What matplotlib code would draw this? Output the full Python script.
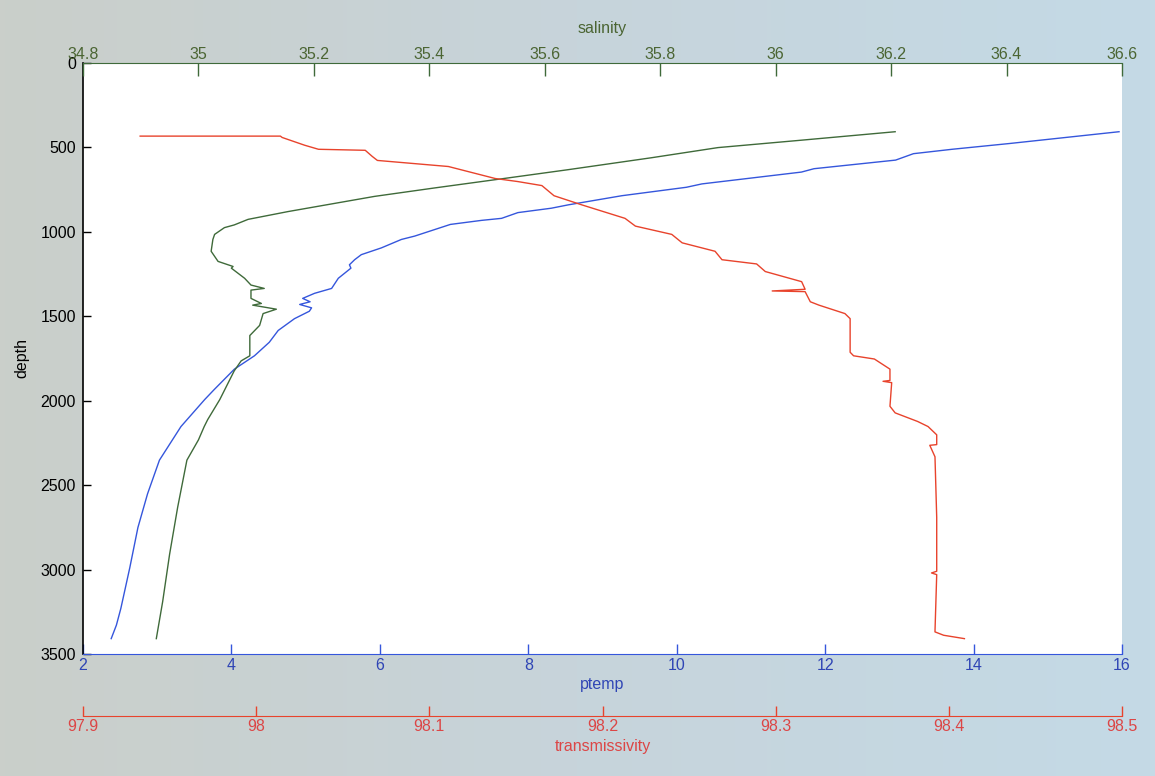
import matplotlib.pyplot as plt
import numpy as np
from matplotlib.colors import LinearSegmentedColormap

# =====================
# CTD profile (depth in m)
# =====================
sal_depth = [407, 457, 501, 561, 632, 686, 740, 790, 880, 926, 959, 975, 1015, 1045,
             1115, 1175, 1205, 1215, 1275, 1315, 1335, 1345, 1394, 1424, 1434, 1458,
             1484, 1554, 1614, 1734, 1764, 1823, 1993, 2112, 2153, 2232, 2352, 2631,
             2910, 3190, 3409]
salinity = [36.207, 36.045, 35.900, 35.785, 35.640, 35.525, 35.409, 35.305, 35.155,
            35.086, 35.062, 35.045, 35.028, 35.025, 35.022, 35.034, 35.060, 35.057,
            35.080, 35.091, 35.114, 35.091, 35.091, 35.109, 35.094, 35.135, 35.112,
            35.106, 35.089, 35.089, 35.074, 35.062, 35.037, 35.016, 35.010, 35.000,
            34.980, 34.964, 34.950, 34.938, 34.927]

temp_depth = [407, 477, 511, 537, 575, 626, 646, 716, 736, 786, 840, 860, 886, 920,
              932, 956, 1025, 1045, 1095, 1135, 1165, 1195, 1215, 1275, 1335, 1364,
              1394, 1414, 1430, 1450, 1470, 1514, 1584, 1654, 1734, 1813, 1933, 1993,
              2153, 2352, 2551, 2751, 2990, 3230, 3329, 3409]
ptemp = [15.96, 14.48, 13.71, 13.19, 12.95, 11.85, 11.68, 10.34, 10.13, 9.26, 8.54,
         8.31, 7.86, 7.64, 7.37, 6.95, 6.47, 6.29, 6.02, 5.75, 5.66, 5.59, 5.61, 5.44,
         5.35, 5.12, 4.96, 5.06, 4.92, 5.08, 5.05, 4.85, 4.63, 4.51, 4.31, 4.04, 3.77,
         3.64, 3.32, 3.03, 2.87, 2.74, 2.63, 2.51, 2.45, 2.38]

trans_depth = [433, 433, 441, 487, 511, 517, 553, 577, 613, 684, 702, 726, 786, 840,
               920, 966, 1015, 1065, 1115, 1165, 1190, 1235, 1295, 1340, 1350, 1354,
               1414, 1434, 1484, 1514, 1713, 1734, 1753, 1813, 1880, 1885, 1893, 2033,
               2072, 2123, 2153, 2202, 2260, 2264, 2332, 2691, 3010, 3020, 3030, 3369,
               3389, 3409]
transmissivity = [97.933, 98.014, 98.015, 98.028, 98.036, 98.063, 98.067, 98.070,
                  98.111, 98.138, 98.151, 98.165, 98.172, 98.188, 98.213, 98.219,
                  98.240, 98.246, 98.265, 98.269, 98.289, 98.294, 98.315, 98.317,
                  98.298, 98.317, 98.320, 98.325, 98.340, 98.343, 98.343, 98.345,
                  98.357, 98.366, 98.366, 98.362, 98.367, 98.366, 98.369, 98.382,
                  98.388, 98.393, 98.393, 98.389, 98.392, 98.393, 98.393, 98.390,
                  98.393, 98.392, 98.397, 98.409]

depth_ticks = [0, 500, 1000, 1500, 2000, 2500, 3000, 3500]
ptemp_ticks = [2, 4, 6, 8, 10, 12, 14, 16]
sal_ticks = [34.8, 35, 35.2, 35.4, 35.6, 35.8, 36, 36.2, 36.4, 36.6]
trans_ticks = [97.9, 98, 98.1, 98.2, 98.3, 98.4, 98.5]

GREEN = "#3f6a3a"
GREEN_TXT = "#4b6533"
BLUE = "#3556dc"
BLUE_TXT = "#2f45b5"
RED = "#e8432c"
RED_TXT = "#dc4646"

plt.rcParams["font.family"] = ["Liberation Sans", "DejaVu Sans"]
plt.rcParams["font.size"] = 11.5

fig = plt.figure(figsize=(11.55, 7.76), dpi=100)

# 배경
bg = fig.add_axes([0, 0, 1, 1], zorder=-10)
bg_cmap = LinearSegmentedColormap.from_list("bg", ["#cacfca", "#c7d4db", "#c4dae6"])
bg.imshow(np.linspace(0, 1, 256)[None, :], cmap=bg_cmap, aspect="auto",
          extent=[0, 1, 0, 1])
bg.set_axis_off()

W, H = 1155, 776
ax = fig.add_axes([83 / W, 1 - 654 / H, 1039 / W, 591 / H])
ax.set_facecolor("white")

# ptemp (bottom axis)
ax.plot(ptemp, temp_depth, color=BLUE, lw=1.0)
ax.set_xlim(2, 16)
ax.set_ylim(3500, 0)
ax.set_xticks(ptemp_ticks)
ax.set_xticklabels([f"{v:g}" for v in ptemp_ticks])
ax.set_yticks(depth_ticks)
ax.tick_params(axis="x", direction="in", length=7.5, width=1, colors=BLUE, pad=3,
               labelcolor=BLUE_TXT)
ax.tick_params(axis="y", direction="in", length=6, width=1, pad=5)
ax.set_xlabel("ptemp", color=BLUE_TXT, labelpad=3)
ax.set_ylabel("depth", labelpad=8)
ax.spines["bottom"].set_color(BLUE)
ax.spines["left"].set_linewidth(1.2)
ax.spines["top"].set_visible(False)
ax.spines["right"].set_visible(False)

# salinity (top axis)
ax_s = ax.twiny()
ax_s.plot(salinity, sal_depth, color=GREEN, lw=1.0)
ax_s.set_xlim(34.8, 36.6)
ax_s.set_xticks(sal_ticks)
ax_s.set_xticklabels([f"{v:g}" for v in sal_ticks])
ax_s.tick_params(axis="x", direction="in", length=9, width=1, colors=GREEN, pad=1,
                 labelcolor=GREEN_TXT)
ax_s.set_xlabel("salinity", color=GREEN_TXT, labelpad=10)
ax_s.spines["top"].set_color(GREEN)
for s in ("left", "right", "bottom"):
    ax_s.spines[s].set_visible(False)

# transmissivity (offset axis below)
ax_t = ax.twiny()
ax_t.plot(transmissivity, trans_depth, color=RED, lw=1.0)
ax_t.set_xlim(97.9, 98.5)
ax_t.xaxis.set_ticks_position("bottom")
ax_t.xaxis.set_label_position("bottom")
ax_t.spines["bottom"].set_position(("outward", 44.6))
ax_t.spines["bottom"].set_color(RED)
for s in ("left", "right", "top"):
    ax_t.spines[s].set_visible(False)
ax_t.set_xticks(trans_ticks)
ax_t.set_xticklabels([f"{v:g}" for v in trans_ticks])
ax_t.tick_params(axis="x", direction="in", length=7.5, width=1, colors=RED, pad=2,
                 labelcolor=RED_TXT)
ax_t.set_xlabel("transmissivity", color=RED_TXT, labelpad=4)

fig.savefig("out.png", dpi=100)
